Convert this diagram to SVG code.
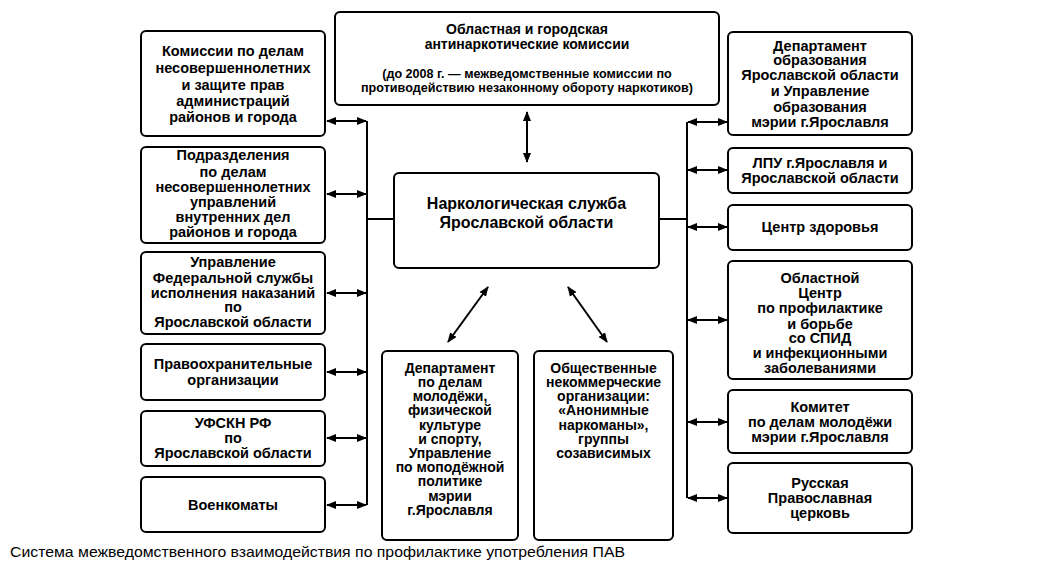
<svg xmlns="http://www.w3.org/2000/svg" width="1040" height="576" viewBox="0 0 1040 576">
<style>
.box{fill:#fff;stroke:#000;stroke-width:2}
.t{font-family:"Liberation Sans",Arial,sans-serif;font-weight:bold;font-size:14.5px;fill:#000;text-anchor:middle}
.s{font-size:14px}
.ln{stroke:#000;stroke-width:2;fill:none}
.ar{stroke:#000;stroke-width:2;fill:none;marker-start:url(#ah);marker-end:url(#ah)}
</style>
<defs>
<marker id="ah" markerUnits="userSpaceOnUse" markerWidth="10" markerHeight="10" refX="9" refY="5" orient="auto-start-reverse" viewBox="0 0 10 10">
<path d="M0,1 L10,5 L0,9 z" fill="#000"/>
</marker>
</defs>
<rect width="1040" height="576" fill="#fff"/>

<g id="connectors">
<line class="ln" x1="367" y1="121" x2="367" y2="505"/>
<line class="ln" x1="367" y1="219" x2="394" y2="219"/>
<line class="ln" x1="687" y1="122" x2="687" y2="498"/>
<line class="ln" x1="659" y1="219" x2="687" y2="219"/>
<line class="ar" x1="327" y1="121" x2="366" y2="121"/>
<line class="ar" x1="327" y1="194" x2="366" y2="194"/>
<line class="ar" x1="327" y1="293" x2="366" y2="293"/>
<line class="ar" x1="327" y1="372" x2="366" y2="372"/>
<line class="ar" x1="327" y1="438" x2="366" y2="438"/>
<line class="ar" x1="327" y1="505" x2="366" y2="505"/>
<line class="ar" x1="688" y1="122" x2="727" y2="122"/>
<line class="ar" x1="688" y1="170" x2="727" y2="170"/>
<line class="ar" x1="688" y1="227" x2="727" y2="227"/>
<line class="ar" x1="688" y1="320" x2="727" y2="320"/>
<line class="ar" x1="688" y1="422" x2="727" y2="422"/>
<line class="ar" x1="688" y1="498" x2="727" y2="498"/>
<line class="ar" x1="527" y1="112" x2="527" y2="162"/>
<line class="ar" x1="488" y1="287" x2="448" y2="342"/>
<line class="ar" x1="568" y1="287" x2="607" y2="342"/>
</g>

<g id="top">
<rect class="box" x="335" y="12" width="384" height="93" rx="5"/>
<text class="t" style="font-size:14px"><tspan x="527" y="34">Областная и городская</tspan><tspan x="527" y="49">антинаркотические комиссии</tspan></text>
<text class="t" style="font-size:12.6px"><tspan x="527" y="78">(до 2008 г. — межведомственные комиссии по</tspan><tspan x="527" y="92">противодействию незаконному обороту наркотиков)</tspan></text>
</g>

<g id="center">
<rect class="box" x="394" y="173" width="265" height="95" rx="5"/>
<text class="t" style="font-size:16px"><tspan x="526.5" y="209">Наркологическая служба</tspan><tspan x="526.5" y="228">Ярославской области</tspan></text>
</g>

<g id="l1">
<rect class="box" x="141" y="31" width="184" height="105" rx="5"/>
<text class="t"><tspan x="233" y="56">Комиссии по делам</tspan><tspan x="233" y="73">несовершеннолетних</tspan><tspan x="233" y="90">и защите прав</tspan><tspan x="233" y="106">администраций</tspan><tspan x="233" y="122">районов и города</tspan></text>
</g>
<g id="l2">
<rect class="box" x="141" y="147" width="184" height="96" rx="5"/>
<text class="t"><tspan x="233" y="160">Подразделения</tspan><tspan x="233" y="177">по делам</tspan><tspan x="233" y="192">несовершеннолетних</tspan><tspan x="233" y="207">управлений</tspan><tspan x="233" y="222">внутренних дел</tspan><tspan x="233" y="237">районов и города</tspan></text>
</g>
<g id="l3">
<rect class="box" x="141" y="252" width="184" height="82" rx="5"/>
<text class="t"><tspan x="233" y="267">Управление</tspan><tspan x="233" y="283">Федеральной службы</tspan><tspan x="233" y="298">исполнения наказаний</tspan><tspan x="233" y="312">по</tspan><tspan x="233" y="327">Ярославской области</tspan></text>
</g>
<g id="l4">
<rect class="box" x="141" y="344" width="184" height="56" rx="5"/>
<text class="t"><tspan x="233" y="369">Правоохранительные</tspan><tspan x="233" y="385">организации</tspan></text>
</g>
<g id="l5">
<rect class="box" x="141" y="411" width="184" height="55" rx="5"/>
<text class="t"><tspan x="233" y="428">УФСКН РФ</tspan><tspan x="233" y="443">по</tspan><tspan x="233" y="458">Ярославской области</tspan></text>
</g>
<g id="l6">
<rect class="box" x="141" y="477" width="184" height="55" rx="5"/>
<text class="t"><tspan x="233" y="510">Военкоматы</tspan></text>
</g>

<g id="r1">
<rect class="box" x="728" y="32" width="184" height="103" rx="5"/>
<text class="t"><tspan x="820" y="51">Департамент</tspan><tspan x="820" y="65">образования</tspan><tspan x="820" y="80">Ярославской области</tspan><tspan x="820" y="96">и Управление</tspan><tspan x="820" y="112">образования</tspan><tspan x="820" y="127">мэрии г.Ярославля</tspan></text>
</g>
<g id="r2">
<rect class="box" x="728" y="148" width="184" height="45" rx="5"/>
<text class="t"><tspan x="820" y="168">ЛПУ г.Ярославля и</tspan><tspan x="820" y="183">Ярославской области</tspan></text>
</g>
<g id="r3">
<rect class="box" x="728" y="205" width="184" height="45" rx="5"/>
<text class="t"><tspan x="820" y="232">Центр здоровья</tspan></text>
</g>
<g id="r4">
<rect class="box" x="728" y="261" width="184" height="118" rx="5"/>
<text class="t"><tspan x="820" y="283">Областной</tspan><tspan x="820" y="298">Центр</tspan><tspan x="820" y="313">по профилактике</tspan><tspan x="820" y="329">и борьбе</tspan><tspan x="820" y="343">со СПИД</tspan><tspan x="820" y="358">и инфекционными</tspan><tspan x="820" y="373">заболеваниями</tspan></text>
</g>
<g id="r5">
<rect class="box" x="728" y="390" width="184" height="63" rx="5"/>
<text class="t"><tspan x="820" y="412">Комитет</tspan><tspan x="820" y="427">по делам молодёжи</tspan><tspan x="820" y="442">мэрии г.Ярославля</tspan></text>
</g>
<g id="r6">
<rect class="box" x="728" y="463" width="184" height="70" rx="5"/>
<text class="t"><tspan x="820" y="488">Русская</tspan><tspan x="820" y="503">Православная</tspan><tspan x="820" y="518">церковь</tspan></text>
</g>

<g id="b1">
<rect class="box" x="382" y="351" width="136" height="189" rx="5"/>
<text class="t s"><tspan x="450" y="373">Департамент</tspan><tspan x="450" y="387">по делам</tspan><tspan x="450" y="401">молодёжи,</tspan><tspan x="450" y="415">физической</tspan><tspan x="450" y="430">культуре</tspan><tspan x="450" y="444">и спорту,</tspan><tspan x="450" y="458">Управление</tspan><tspan x="450" y="472">по моподёжной</tspan><tspan x="450" y="486">политике</tspan><tspan x="450" y="501">мэрии</tspan><tspan x="450" y="515">г.Ярославля</tspan></text>
</g>
<g id="b2">
<rect class="box" x="534" y="351" width="139" height="189" rx="5"/>
<text class="t s"><tspan x="603.5" y="373">Общественные</tspan><tspan x="603.5" y="387">некоммерческие</tspan><tspan x="603.5" y="401">организации:</tspan><tspan x="603.5" y="415">«Анонимные</tspan><tspan x="603.5" y="430">наркоманы»,</tspan><tspan x="603.5" y="444">группы</tspan><tspan x="603.5" y="458">созависимых</tspan></text>
</g>

<text x="10" y="557" textLength="615" lengthAdjust="spacingAndGlyphs" style="font-family:'Liberation Sans',Arial,sans-serif;font-size:15px;fill:#000">Система межведомственного взаимодействия по профилактике употребления ПАВ</text>
</svg>
